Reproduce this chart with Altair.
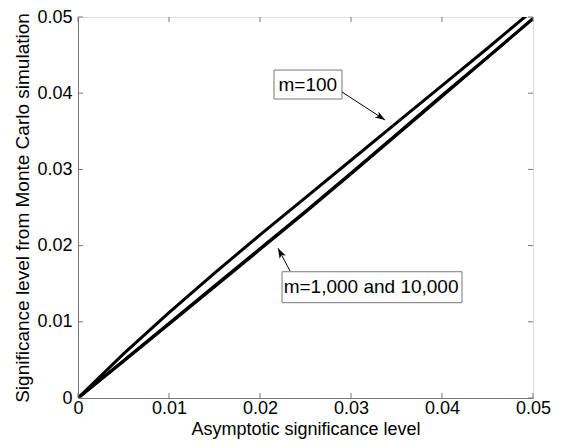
import math
import altair as alt
import pandas as pd

# ---------------- data ----------------
asym = [0, 0.005, 0.01, 0.015, 0.02, 0.025, 0.03, 0.035, 0.04, 0.045, 0.05]
m100 = [0, 0.0058, 0.0112, 0.0164, 0.0214, 0.0263, 0.0312, 0.0361, 0.0410, 0.0459, 0.0509]
m1000 = [0, 0.0048, 0.0097, 0.0146, 0.0195, 0.0244, 0.0294, 0.0345, 0.0396, 0.0447, 0.0498]
m10000 = [0, 0.0049, 0.0098, 0.0147, 0.0196, 0.0245, 0.0295, 0.0346, 0.0397, 0.0447, 0.0498]
series_names = ["m=100", "m=1,000", "m=10,000"]

tick_values = [0, 0.01, 0.02, 0.03, 0.04, 0.05]

# annotations (data coordinates)
ann_text = ["m=100", "m=1,000 and 10,000"]
ann_box_x = [0.02154, 0.02242]
ann_box_x2 = [0.02901, 0.0422]
ann_box_y = [0.03924, 0.01251]
ann_box_y2 = [0.04304, 0.01657]
ann_text_x = [0.02203, 0.0226]
ann_text_y = [0.04114, 0.01457]
arrow_tail_x = [0.02901, 0.0233]
arrow_tail_y = [0.04016, 0.01667]
arrow_tip_x = [0.03374, 0.02198]
arrow_tip_y = [0.03648, 0.01965]

# ---------------- layout ----------------
W, H = 455, 381
FONT = "Liberation Sans"
DOM = [0, 0.05]
sx = W / (DOM[1] - DOM[0])
sy = H / (DOM[1] - DOM[0])

rows = []
for name, ys in zip(series_names, [m100, m1000, m10000]):
    for xv, yv in zip(asym, ys):
        rows.append({"series": name, "x": xv, "y": yv})
lines_df = pd.DataFrame(rows)

ann_df = pd.DataFrame({
    "text": ann_text, "bx": ann_box_x, "bx2": ann_box_x2, "by": ann_box_y, "by2": ann_box_y2,
    "tx": ann_text_x, "ty": ann_text_y,
})
angles = []
for tx0, ty0, tx1, ty1 in zip(arrow_tail_x, arrow_tail_y, arrow_tip_x, arrow_tip_y):
    dx = (tx1 - tx0) * sx
    dy = -(ty1 - ty0) * sy
    angles.append(math.degrees(math.atan2(dx, -dy)) % 360)
arrow_df = pd.DataFrame({"x": arrow_tail_x, "y": arrow_tail_y, "x2": arrow_tip_x,
                         "y2": arrow_tip_y, "angle": angles})
ticks_df = pd.DataFrame({"v": tick_values})

xscale = alt.Scale(domain=DOM, nice=False, zero=False)
yscale = alt.Scale(domain=DOM, nice=False, zero=False)
label_expr = "datum.value == 0 ? '0' : format(datum.value, '.2f')"

x_axis = alt.Axis(values=tick_values, labelExpr=label_expr, ticks=False, grid=False,
                  domainColor="#777777", labelFont=FONT, labelFontSize=18, labelColor="black",
                  labelPadding=1, title="Asymptotic significance level", titleFont=FONT,
                  titleFontSize=18, titleFontWeight="normal", titleColor="black", titlePadding=3,
                  labelFlush=False, labelOverlap=False)
y_axis = alt.Axis(values=tick_values, labelExpr=label_expr, ticks=False, grid=False,
                  domainColor="#777777", labelFont=FONT, labelFontSize=18, labelColor="black",
                  labelPadding=6, title="Significance level from Monte Carlo simulation",
                  titleFont=FONT, titleFontSize=19, titleFontWeight="normal", titleColor="black",
                  titlePadding=4, labelFlush=False, labelOverlap=False)

base_lines = alt.Chart(lines_df).mark_line(color="black", strokeWidth=3, clip=True).encode(
    x=alt.X("x:Q", scale=xscale, axis=x_axis),
    y=alt.Y("y:Q", scale=yscale, axis=y_axis),
    detail="series:N",
)

tick_color = "#777777"
tbase = alt.Chart(ticks_df)
ticks_bottom = tbase.mark_rule(color=tick_color).encode(
    x=alt.X("v:Q", scale=xscale), y=alt.value(H), y2=alt.value(H - 5))
ticks_top = tbase.mark_rule(color=tick_color).encode(
    x=alt.X("v:Q", scale=xscale), y=alt.value(0), y2=alt.value(5))
ticks_left = tbase.mark_rule(color=tick_color).encode(
    y=alt.Y("v:Q", scale=yscale), x=alt.value(0), x2=alt.value(5))
ticks_right = tbase.mark_rule(color=tick_color).encode(
    y=alt.Y("v:Q", scale=yscale), x=alt.value(W), x2=alt.value(W - 5))

boxes = alt.Chart(ann_df).mark_rect(fill="white", stroke="#777777", strokeWidth=1).encode(
    x=alt.X("bx:Q", scale=xscale), x2="bx2:Q",
    y=alt.Y("by:Q", scale=yscale), y2="by2:Q",
)
texts = alt.Chart(ann_df).mark_text(align="left", baseline="middle", font=FONT, fontSize=19,
                                    color="black").encode(
    x=alt.X("tx:Q", scale=xscale), y=alt.Y("ty:Q", scale=yscale), text="text:N")

arrow_lines = alt.Chart(arrow_df).mark_rule(color="black", strokeWidth=1).encode(
    x=alt.X("x:Q", scale=xscale), y=alt.Y("y:Q", scale=yscale), x2="x2:Q", y2="y2:Q")
arrow_heads = alt.Chart(arrow_df).mark_point(
    shape="M0,0L0.7,2L0,1.5L-0.7,2Z", filled=True, color="black", size=100, opacity=1,
    strokeWidth=0.5).encode(
    x=alt.X("x2:Q", scale=xscale), y=alt.Y("y2:Q", scale=yscale),
    angle=alt.Angle("angle:Q", scale=None))

chart = alt.layer(
    base_lines, ticks_bottom, ticks_top, ticks_left, ticks_right,
    boxes, texts, arrow_lines, arrow_heads,
).properties(
    width=W, height=H,
    autosize=alt.AutoSizeParams(type="none"),
    padding={"left": 70, "top": 9, "right": 20, "bottom": 41},
).configure_view(stroke="#777777", strokeWidth=1).configure(background="white")

chart.save("out.html", embed_options={"renderer": "svg", "actions": False})
